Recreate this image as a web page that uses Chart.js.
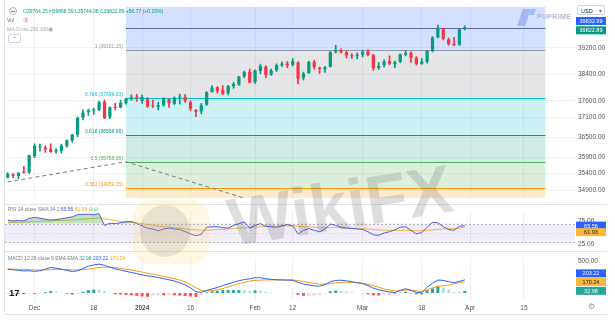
<!DOCTYPE html>
<html>
<head>
<meta charset="utf-8">
<script src="https://cdn.jsdelivr.net/npm/chart.js@4.4.1/dist/chart.umd.min.js"></script>
<style>
  html, body { margin: 0; padding: 0; background: #fff; }
  body { width: 615px; height: 323px; position: relative; overflow: hidden; font-family: "Liberation Sans", Arial, sans-serif; }
  canvas { position: absolute; left: 0; }
  #main { top: 0; }
  #rsi { top: 204px; }
  #macd { top: 251px; }
  .t { position: absolute; white-space: nowrap; line-height: 1; font-size: 5px; color: #787b86; }
  .ln { position: absolute; background: #e0e3eb; }
  .g { color: #089981; }
  .wm { position: absolute; pointer-events: none; }
</style>
</head>
<body>
<canvas id="main" width="615" height="205"></canvas>
<canvas id="rsi" width="615" height="47"></canvas>
<canvas id="macd" width="615" height="64"></canvas>

<!-- pane borders -->
<div class="ln" style="left:4px;top:0;width:1px;height:314px"></div>
<div class="ln" style="left:5px;top:204px;width:602px;height:1px"></div>
<div class="ln" style="left:5px;top:251px;width:602px;height:1px"></div>
<div class="ln" style="left:5px;top:314px;width:602px;height:1px"></div>

<!-- header -->
<div class="t" style="left:9px;top:7px;width:6px;height:6px;border:1px solid #b2b5be;border-radius:50%"></div>
<div class="t" style="left:11px;top:10.5px;width:4px;height:1px;background:#787b86"></div>
<div class="t g" style="left:23px;top:8.5px">O39764.25 H39868.59 L39744.08 C39822.89 +56.77 (+0.15%)</div>
<div class="t" style="left:7px;top:17.5px;color:#6a6d78">Vol</div>
<div class="t" style="left:23px;top:16.5px;width:6px;height:6px;border-radius:50%;background:#fde3e6;color:#f23645;text-align:center;font-size:5px;line-height:6px;font-weight:bold">!</div>
<div class="t" style="left:7px;top:27px;color:#a3a6af">MA Cross 200 100</div>
<div class="t" style="left:48px;top:26px;color:#a3a6af;font-size:6px">◉</div>
<div class="t" style="left:8px;top:34px;width:11px;height:7px;border:1px solid #d1d4dc;border-radius:2px;color:#787b86;text-align:center;line-height:8px;font-size:6px">⌃</div>

<!-- RSI / MACD legends -->
<div class="t" style="left:8px;top:207px">RSI 14 close SMA 14 2 <span style="color:#3f51e0">65.56</span> <span style="color:#f5a623">61.93</span> <span style="color:#4caf50">∅ ∅</span></div>
<div class="t" style="left:8px;top:256px">MACD 12 26 close 9 EMA EMA <span style="color:#26a69a">32.98</span> <span style="color:#2962ff">203.22</span> <span style="color:#ff9800">170.24</span></div>

<!-- top right -->
<div class="t" style="left:577px;top:5px;width:28px;height:10px;background:#fff;border:1px solid #d1d4dc;border-radius:2px;color:#131722;font-size:5.5px;line-height:10px;padding-left:3px;box-sizing:border-box">USD<span style="position:absolute;right:2px;color:#787b86">▾</span></div>
<div class="wm" style="left:520px;top:9px;width:8px;height:17px;background:rgba(90,130,235,0.4);transform:skewX(-18deg)"></div>
<div class="wm" style="left:530px;top:9px;width:5px;height:6px;background:rgba(90,130,235,0.4);transform:skewX(-18deg)"></div>
<div class="wm t" style="left:537px;top:13px;font-size:7px;font-weight:bold;color:#b3bad0;letter-spacing:0.3px">PUPRIME</div>

<!-- WikiFX watermark -->
<div class="wm" style="left:133px;top:200px;width:76px;height:64px;border-radius:18px;background:rgba(255,210,90,0.18)"></div>
<div class="wm" style="left:140px;top:205px;width:50px;height:52px;border-radius:50%;background:rgba(110,110,110,0.16)"></div>
<div class="wm" style="left:227px;top:171px;font-size:68px;line-height:1;font-weight:bold;color:rgba(90,90,90,0.2);transform:rotate(-9deg);white-space:nowrap">WikiFX</div>

<div class="t" style="left:9px;top:288px;font-size:9.5px;font-weight:900;color:#131722">17</div>
<div class="t" style="left:588px;top:303px;font-size:8px;color:#9598a1">⚙</div>

<script>
const dates = [
  "2023-11-24","2023-11-27","2023-11-28","2023-11-29","2023-11-30","2023-12-01","2023-12-04","2023-12-05","2023-12-06","2023-12-07",
  "2023-12-08","2023-12-11","2023-12-12","2023-12-13","2023-12-14","2023-12-15","2023-12-18","2023-12-19","2023-12-20","2023-12-21",
  "2023-12-22","2023-12-26","2023-12-27","2023-12-28","2023-12-29","2024-01-02","2024-01-03","2024-01-04","2024-01-05","2024-01-08",
  "2024-01-09","2024-01-10","2024-01-11","2024-01-12","2024-01-16","2024-01-17","2024-01-18","2024-01-19","2024-01-22","2024-01-23",
  "2024-01-24","2024-01-25","2024-01-26","2024-01-29","2024-01-30","2024-01-31","2024-02-01","2024-02-02","2024-02-05","2024-02-06",
  "2024-02-07","2024-02-08","2024-02-09","2024-02-12","2024-02-13","2024-02-14","2024-02-15","2024-02-16","2024-02-20","2024-02-21",
  "2024-02-22","2024-02-23","2024-02-26","2024-02-27","2024-02-28","2024-02-29","2024-03-01","2024-03-04","2024-03-05","2024-03-06",
  "2024-03-07","2024-03-08","2024-03-11","2024-03-12","2024-03-13","2024-03-14","2024-03-15","2024-03-18","2024-03-19","2024-03-20",
  "2024-03-21","2024-03-22","2024-03-25","2024-03-26","2024-03-27","2024-03-28",
  "2024-04-01","2024-04-02","2024-04-03","2024-04-04","2024-04-05","2024-04-08","2024-04-09","2024-04-10","2024-04-11","2024-04-12",
  "2024-04-15","2024-04-16","2024-04-17","2024-04-18","2024-04-19","2024-04-22","2024-04-23","2024-04-24","2024-04-25","2024-04-26"
];

const opens = [
  35280,35380,35330,35460,35440,35930,36200,36190,36150,36070,
  36080,36240,36400,36580,37100,37260,37300,37330,37570,37110,
  37420,37400,37530,37660,37720,37600,37650,37450,37420,37460,
  37650,37510,37700,37720,37560,37320,37280,37480,37870,38010,
  37930,37830,38040,38090,38340,38480,38170,38500,38630,38390,
  38530,38680,38730,38690,38760,38300,38440,38780,38600,38550,
  38630,39080,39130,39070,38970,38960,39000,39100,38980,38600,
  38680,38800,38710,38780,39000,39050,38900,38720,38780,39100,
  39520,39790,39460,39330,39300,39764.25
];
const highs = [
  35430,35400,35440,35620,35960,36300,36290,36240,36300,36160,
  36290,36420,36590,37110,37330,37350,37380,37590,37630,37420,
  37530,37620,37680,37780,37800,37780,37700,37620,37560,37700,
  37660,37720,37800,37790,37600,37340,37520,37880,38060,38030,
  38060,38070,38160,38340,38500,38560,38540,38710,38660,38560,
  38720,38780,38790,38880,38790,38470,38800,38830,38620,38640,
  39090,39280,39170,39110,39030,39050,39140,39150,39010,38760,
  38840,38960,38800,39020,39120,39080,38940,38880,39130,39540,
  39890,39800,39500,39520,39780,39868.59
];
const lows = [
  35270,35280,35250,35410,35400,35880,36080,36040,36040,36010,
  36020,36200,36350,36520,37020,37160,37190,37300,37060,37060,
  37320,37390,37500,37620,37580,37520,37400,37390,37330,37440,
  37400,37490,37500,37550,37300,37120,37210,37460,37860,37830,
  37790,37780,37980,38070,38300,38140,38120,38420,38300,38370,
  38480,38630,38600,38650,38110,38230,38430,38560,38430,38460,
  38620,39040,39040,38900,38880,38870,38930,38960,38520,38550,
  38620,38690,38600,38750,38960,38760,38680,38700,38740,39080,
  39500,39440,39280,39270,39270,39744.08
];
const closes = [
  35390,35333,35416,35430,35950,36245,36204,36125,36054,36117,
  36248,36405,36577,37090,37248,37306,37306,37558,37082,37405,
  37385,37545,37656,37710,37689,37715,37430,37440,37466,37683,
  37525,37695,37711,37592,37361,37266,37468,37863,38001,37905,
  37806,38049,38109,38333,38467,38150,38519,38654,38380,38521,
  38677,38726,38671,38797,38272,38424,38773,38627,38563,38612,
  39069,39131,39069,38972,38949,38996,39087,38990,38585,38661,
  38791,38723,38770,39005,39043,38906,38715,38790,39110,39512,
  39781,39476,39314,39282,39760,39822.89
];

const priceTicks = [39200, 38400, 37600, 37100, 36500, 35900, 35400, 34900];
const fibRatios = ["1", "0.786", "0.618", "0.5", "0.382"];
const fibPrices = [39151.15, 37699.33, 36558.99, 35758.36, 34959.15];
const fibFrom = 22, fibTo = 100;
const athLine = 39800;
const athBadge = 39832.99;
const trendIdx = [0, 22, 60];
const trendVal = [35150, 35758.36, 33860];

const rsi = [
  78,76,77,76,82,84,82,80,78,79,
  81,83,85,90,91,91,90,92,66,71,
  70,72,74,75,70,65,60,58,54,58,
  60,58,57,52,47,43,46,62,63,63,
  61,60,66,70,74,60,66,70,64,63,
  62,65,68,65,47,55,59,55,52,58,
  69,66,62,60,59,58,57,52,45,44,
  49,52,56,62,63,55,47,50,62,73,
  72,63,57,55,64,65.56
];
const rsiSma = [
  72,73,73,74,74,75,75,76,76,77,
  77,78,78,79,80,81,82,83,81,79,
  77,75,74,73,72,70,68,66,64,63,
  62,61,60,58,57,56,55,55,56,57,
  57,58,59,60,61,61,62,63,64,64,
  64,65,65,65,64,63,63,62,61,61,
  61,61,61,60,60,60,59,58,57,56,
  55,55,55,55,55,55,54,54,55,56,
  57,58,58,59,60,61.93
];
const rsiLevels = [70, 50, 30];
const rsiTicks = [75, 25];

const macd = [
  368,360,350,342,345,335,345,370,395,385,
  368,350,332,345,380,415,435,447,430,400,
  375,355,335,318,300,282,265,255,240,222,
  205,185,160,125,80,20,10,40,62,85,
  115,140,165,190,208,220,235,237,222,210,
  205,202,200,198,165,138,125,110,105,130,
  175,195,197,188,175,160,145,115,75,50,
  30,15,5,40,66,40,10,4,90,150,
  201,195,175,158,180,203.22
];
const macdSignal = [
  372,370,367,364,361,357,355,356,362,366,
  367,364,358,356,360,370,382,394,400,400,
  395,380,368,355,340,325,305,290,275,258,
  240,222,200,170,130,80,40,30,36,50,
  70,95,120,145,165,184,195,200,203,204,
  203,202,201,201,192,178,165,150,136,138,
  148,158,165,168,163,158,150,135,112,90,
  60,45,32,35,45,45,30,26,45,80,
  101,112,125,140,163,170.24
];
const macdHist = [
  -4,-8,-12,-15,-10,-14,-6,12,30,20,
  4,-12,-25,-12,20,45,52,50,30,5,
  -20,-25,-33,-37,-45,-55,-60,-40,-35,-36,
  -35,-37,-40,-48,-55,-62,-30,10,26,35,
  45,45,45,45,43,36,40,37,19,6,
  2,0,-1,-3,-30,-45,-45,-40,-31,-8,
  27,37,32,20,12,2,-5,-20,-37,-40,
  -30,-30,-27,5,21,-5,-20,-22,45,70,
  100,83,50,18,17,32.98
];
const macdTicks = [500];

const xTickDates = ["2023-12-01","2023-12-18","2024-01-02","2024-01-16","2024-02-01","2024-02-12","2024-03-01","2024-03-18","2024-04-01","2024-04-15"];
const xTickText = ["Dec","18","2024","16","Feb","12","Mar","18","Apr","15"];

Chart.defaults.font.family = "'Liberation Sans', Arial, sans-serif";
Chart.defaults.animation = false;

const UP = "#089981", DOWN = "#f23645";
const candleColors = opens.map((o, i) => closes[i] >= o ? UP : DOWN);
const histColors = macdHist.map((h, i) => {
  const p = i > 0 ? macdHist[i - 1] : 0;
  if (h >= 0) return h >= p ? "#26a69a" : "#b2dfdb";
  return h < p ? "#ff5252" : "#ffcdd2";
});

const gridX = c => xTickDates.includes(dates[c.index]) ? "rgba(42,46,57,0.07)" : "rgba(0,0,0,0)";

function xScale(showLabels) {
  return {
    offset: true,
    grid: { offset: false, drawTicks: false, color: gridX },
    border: { display: false },
    ticks: {
      display: showLabels,
      autoSkip: false,
      maxRotation: 0,
      padding: 3,
      color: "#50535e",
      font: c => ({ size: 6.5, weight: dates[c.index] === "2024-01-02" ? "bold" : "normal" }),
      callback: (v, i) => {
        const k = xTickDates.indexOf(dates[i]);
        return k < 0 ? "" : xTickText[k];
      }
    },
    afterFit: s => { s.height = showLabels ? 14 : 0; }
  };
}

function yScale(min, max, ticks, showGrid) {
  return {
    position: "right",
    min: min,
    max: max,
    grid: { display: showGrid, drawTicks: false, color: "rgba(42,46,57,0.06)" },
    border: { display: false },
    ticks: { padding: 3, color: "#50535e", font: { size: 6.5 }, callback: v => v.toFixed(2) },
    afterBuildTicks: s => { s.ticks = ticks.map(v => ({ value: v })); },
    afterFit: s => { s.width = 40; }
  };
}

// price labels on the right axis
function badgePlugin(id, list) {
  return {
    id: id,
    afterDraw(chart) {
      const ctx = chart.ctx;
      const y = chart.scales.y;
      const x0 = chart.chartArea.right + 1;
      ctx.save();
      ctx.font = "5.5px 'Liberation Sans', Arial";
      ctx.textAlign = "center";
      ctx.textBaseline = "middle";
      list.forEach(b => {
        const cy = y.getPixelForValue(b.value) + b.dy;
        ctx.fillStyle = b.bg;
        ctx.fillRect(x0, cy - 4, 30, 8);
        ctx.fillStyle = b.fg;
        ctx.fillText(b.value.toFixed(2), x0 + 15, cy + 0.5);
      });
      ctx.restore();
    }
  };
}

const fibColors = ["#9598a1", "#00bcd4", "#089981", "#4caf50", "#ff9800"];
const fibFills = ["rgba(41,98,255,0.2)", "rgba(120,123,134,0.2)", "rgba(0,188,212,0.2)", "rgba(8,153,129,0.2)", "rgba(76,175,80,0.2)", "rgba(255,152,0,0.2)"];

const fibPlugin = {
  id: "fib",
  beforeDatasetsDraw(chart) {
    const ctx = chart.ctx, a = chart.chartArea;
    const x = chart.scales.x, y = chart.scales.y;
    const x0 = x.getPixelForValue(fibFrom), x1 = x.getPixelForValue(fibTo);
    const ys = fibPrices.map(p => y.getPixelForValue(p));
    const edges = [a.top].concat(ys, [a.bottom]);
    ctx.save();
    for (let i = 0; i < fibFills.length; i++) {
      ctx.fillStyle = fibFills[i];
      ctx.fillRect(x0, edges[i], x1 - x0, edges[i + 1] - edges[i]);
    }
    ctx.lineWidth = 1;
    ctx.font = "5px 'Liberation Sans', Arial";
    ctx.textAlign = "right";
    ctx.textBaseline = "bottom";
    ys.forEach((py, i) => {
      const yy = Math.round(py) + 0.5;
      ctx.strokeStyle = fibColors[i];
      ctx.beginPath(); ctx.moveTo(x0, yy); ctx.lineTo(x1, yy); ctx.stroke();
      ctx.fillStyle = fibColors[i];
      ctx.fillText(fibRatios[i] + " (" + fibPrices[i].toFixed(2) + ")", x0 - 3, yy - 1.5);
    });
    const ty = Math.round(y.getPixelForValue(athLine)) + 0.5;
    ctx.strokeStyle = "#5d6aa8";
    ctx.lineWidth = 1.2;
    ctx.beginPath(); ctx.moveTo(x0, ty); ctx.lineTo(x1, ty); ctx.stroke();
    ctx.restore();
  }
};

const rsiBand = {
  id: "rsiBand",
  beforeDatasetsDraw(chart) {
    const ctx = chart.ctx, a = chart.chartArea, y = chart.scales.y;
    const yHi = Math.round(y.getPixelForValue(rsiLevels[0])) + 0.5;
    const yMid = Math.round(y.getPixelForValue(rsiLevels[1])) + 0.5;
    const yLo = Math.round(y.getPixelForValue(rsiLevels[2])) + 0.5;
    ctx.save();
    ctx.fillStyle = "rgba(126,87,194,0.1)";
    ctx.fillRect(a.left, yHi, a.right - a.left, yLo - yHi);
    ctx.lineWidth = 1;
    ctx.strokeStyle = "rgba(120,123,134,0.55)";
    ctx.setLineDash([2, 2]);
    [yHi, yLo].forEach(v => { ctx.beginPath(); ctx.moveTo(a.left, v); ctx.lineTo(a.right, v); ctx.stroke(); });
    ctx.strokeStyle = "rgba(120,123,134,0.25)";
    ctx.setLineDash([1, 2]);
    ctx.beginPath(); ctx.moveTo(a.left, yMid); ctx.lineTo(a.right, yMid); ctx.stroke();
    ctx.restore();
  }
};

const baseOptions = {
  responsive: false,
  animation: false,
  events: [],
  plugins: { legend: { display: false }, tooltip: { enabled: false } }
};

// main price pane
new Chart(document.getElementById("main"), {
  type: "bar",
  data: {
    labels: dates,
    datasets: [
      {
        label: "body",
        data: opens.map((o, i) => [o, closes[i]]),
        backgroundColor: candleColors,
        barPercentage: 0.6,
        categoryPercentage: 1,
        grouped: false,
        minBarLength: 1,
        order: 0
      },
      {
        label: "wick",
        data: lows.map((l, i) => [l, highs[i]]),
        backgroundColor: candleColors,
        barThickness: 1,
        grouped: false,
        order: 1
      },
      {
        type: "line",
        label: "trend",
        data: dates.map((d, i) => { const k = trendIdx.indexOf(i); return k < 0 ? null : trendVal[k]; }),
        borderColor: "#787b86",
        borderWidth: 1,
        borderDash: [4, 3],
        pointRadius: 0,
        spanGaps: true,
        order: 2
      }
    ]
  },
  options: Object.assign({}, baseOptions, {
    layout: { padding: { left: 5, top: 3, right: 0, bottom: 1 } },
    scales: { x: xScale(false), y: yScale(34660, 40440, priceTicks, true) }
  }),
  plugins: [fibPlugin, badgePlugin("mainBadges", [
    { value: athBadge, bg: "#2962ff", fg: "#fff", dy: -6 },
    { value: closes[closes.length - 1], bg: UP, fg: "#fff", dy: 3 }
  ])]
});

// RSI pane
new Chart(document.getElementById("rsi"), {
  type: "line",
  data: {
    labels: dates,
    datasets: [
      {
        label: "RSI",
        data: rsi,
        borderColor: "#4f5fe0",
        borderWidth: 1,
        pointRadius: 0,
        fill: { target: { value: rsiLevels[0] }, above: "rgba(76,175,80,0.35)", below: "rgba(0,0,0,0)" }
      },
      {
        label: "SMA",
        data: rsiSma,
        borderColor: "#f7b23b",
        borderWidth: 1,
        pointRadius: 0,
        fill: false
      }
    ]
  },
  options: Object.assign({}, baseOptions, {
    layout: { padding: { left: 5, top: 0, right: 0, bottom: 0 } },
    scales: { x: xScale(false), y: yScale(24.2, 98.5, rsiTicks, false) }
  }),
  plugins: [rsiBand, badgePlugin("rsiBadges", [
    { value: rsi[rsi.length - 1], bg: "#2962ff", fg: "#fff", dy: 0 },
    { value: rsiSma[rsiSma.length - 1], bg: "#f9b73b", fg: "#1e1e1e", dy: 4.9 }
  ])]
});

// MACD pane
new Chart(document.getElementById("macd"), {
  type: "bar",
  data: {
    labels: dates,
    datasets: [
      {
        type: "line",
        label: "MACD",
        data: macd,
        borderColor: "#2962ff",
        borderWidth: 1,
        pointRadius: 0,
        order: 0
      },
      {
        type: "line",
        label: "Signal",
        data: macdSignal,
        borderColor: "#ff9800",
        borderWidth: 1,
        pointRadius: 0,
        order: 1
      },
      {
        label: "Histogram",
        data: macdHist,
        backgroundColor: histColors,
        barPercentage: 0.55,
        categoryPercentage: 1,
        order: 2
      }
    ]
  },
  options: Object.assign({}, baseOptions, {
    layout: { padding: { left: 5, top: 0, right: 0, bottom: 0 } },
    scales: { x: xScale(true), y: yScale(-124.4, 544, macdTicks, false) }
  }),
  plugins: [badgePlugin("macdBadges", [
    { value: macd[macd.length - 1], bg: "#2962ff", fg: "#fff", dy: -6.5 },
    { value: macdSignal[macdSignal.length - 1], bg: "#f9b73b", fg: "#1e1e1e", dy: 0 },
    { value: macdHist[macdHist.length - 1], bg: "#26a69a", fg: "#fff", dy: 0 }
  ])]
});
</script>
</body>
</html>
